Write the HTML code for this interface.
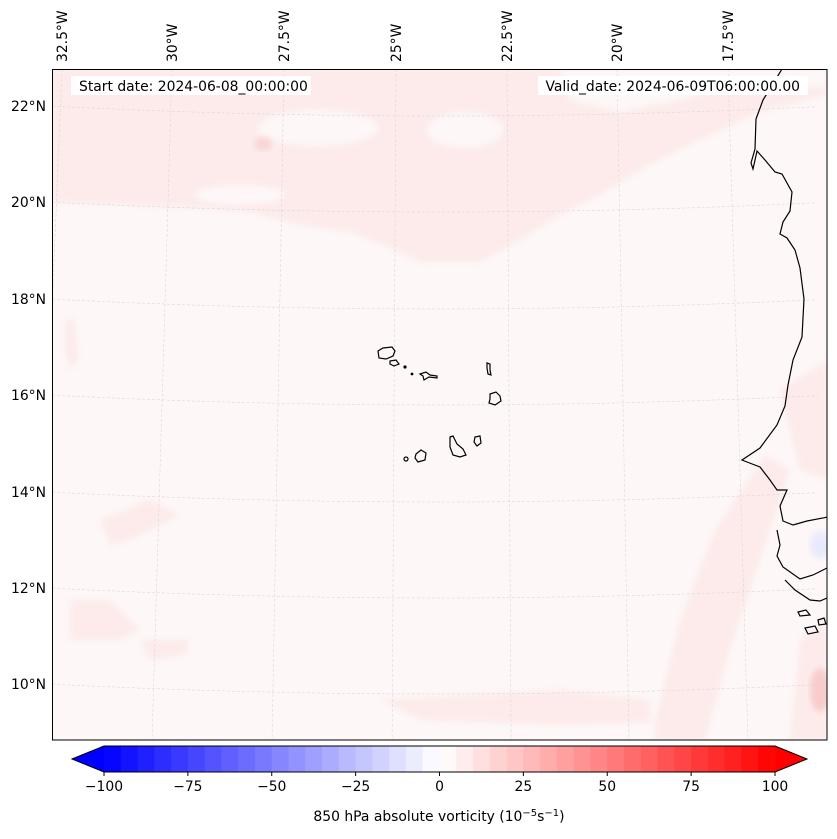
<!DOCTYPE html>
<html><head><meta charset="utf-8">
<style>
body{margin:0;background:#fff;width:837px;height:839px;overflow:hidden;font-family:"Liberation Sans","DejaVu Sans",sans-serif;}
svg{display:block}
text{font-family:"DejaVu Sans","Liberation Sans",sans-serif;font-size:13.9px;fill:#000}
</style></head>
<body>
<svg id="fig" width="837" height="839">
  <defs>
    <clipPath id="mapclip"><rect x="52" y="69" width="775" height="671"/></clipPath>
    <filter id="blur" x="-10%" y="-10%" width="120%" height="120%"><feGaussianBlur stdDeviation="3"/></filter>
  </defs>
  <g clip-path="url(#mapclip)">
    <rect x="52" y="69" width="775" height="671" fill="#fdf7f7"/>
    <g filter="url(#blur)" fill="#fdebeb">
      <path d="M52,69 L827,69 L827,95 L760,112 L700,140 L640,170 L600,195 L560,215 L520,240 L480,262 L420,262 L390,248 L350,232 L300,225 L250,212 L200,208 L130,205 L52,202 Z"/>
      <path d="M655,720 L680,620 L715,530 L765,455 L790,470 L760,560 L730,650 L705,740 L655,740 Z"/>
      <path d="M780,390 L827,360 L827,480 L800,470 Z"/>
      <path d="M800,640 L827,620 L827,740 L790,740 Z"/>
      <path d="M380,700 L560,690 L650,700 L650,722 L560,725 L420,720 Z"/>
      <path d="M70,600 L110,600 L140,630 L120,640 L70,640 Z"/>
      <path d="M100,520 L150,500 L180,515 L130,540 L110,545 Z"/>
      <path d="M140,640 L190,640 L185,655 L150,660 Z"/>
      <path d="M65,320 L75,320 L78,360 L70,370 L65,350 Z"/>
    </g>
    <g filter="url(#blur)" fill="#fdf7f7">
      <path d="M560,69 L827,69 L827,88 L740,84 L680,100 L620,112 L570,100 Z"/>
      <ellipse cx="318" cy="128" rx="60" ry="18"/>
      <ellipse cx="465" cy="130" rx="38" ry="18"/>
      <ellipse cx="240" cy="195" rx="45" ry="10"/>
    </g>
    <ellipse cx="263" cy="144" rx="9" ry="7" fill="#f9d6d6" filter="url(#blur)"/>
    <ellipse cx="820" cy="690" rx="10" ry="22" fill="#f8cccc" filter="url(#blur)"/>
    <ellipse cx="820" cy="545" rx="10" ry="14" fill="#e8eafb" filter="url(#blur)"/>
    <g id="grid" stroke="#d4d4d4" stroke-width="0.5" stroke-dasharray="3,2" fill="none"></g>
    <g stroke="#000" stroke-width="1.2" fill="none">
      <path d="M782,69 L763,100 L756,119 L755,149 L751,163 L753,169 L757,151 L765,160 L775,172 L782,174 L792,192 L790,211 L783,222 L780,234 L787,238 L795,250 L800,268 L804,299 L802,337 L793,360 L788,385 L785,406 L777,425 L760,448 L742,460 L747,462 L760,467 L770,480 L777,490 L787,490 L780,506 L783,521 L793,525 L807,521 L828,517"/>
      <path d="M777,530 L780,545 L777,556 L783,567 L800,579 L813,575 L827,568"/>
      <path d="M785,580 L795,590 L810,600 L820,601 L827,598"/>
      <path d="M798,612 L806,610 L810,615 L800,616 Z M805,628 L815,626 L818,632 L808,634 Z M818,620 L824,618 L826,624 L819,625 Z"/>
    </g>
    <g stroke="#000" stroke-width="1.2" fill="none">
      <path d="M378,351 L383,348 L392,347 L395,351 L393,356 L386,359 L379,358 Z"/>
      <path d="M390,361 L396,360 L399,364 L394,366 L390,364 Z"/>
      <circle cx="405" cy="367" r="1" fill="#000"/>
      <circle cx="412" cy="374" r="0.8" fill="#000"/>
      <path d="M420,374 L426,372 L430,375 L437,376 L437,378 L429,377 L424,380 L423,376 Z"/>
      <path d="M487,363 L490,364 L490,370 L491,375 L488,374 L487,368 Z"/>
      <path d="M490,394 L496,392 L500,396 L501,401 L495,405 L489,403 L490,399 Z"/>
      <path d="M450,437 L453,436 L457,444 L463,449 L466,455 L460,457 L453,455 L450,447 Z"/>
      <path d="M475,437 L480,436 L481,443 L477,446 L474,442 Z"/>
      <path d="M416,454 L421,450 L426,453 L425,460 L418,462 L415,458 Z"/>
      <circle cx="406" cy="459" r="2"/>
    </g>
    <rect x="71" y="76" width="240" height="19" fill="#fff"/>
    <text x="79" y="91">Start date: 2024-06-08_00:00:00</text>
    <rect x="538" y="76" width="270" height="19" fill="#fff"/>
    <text x="800" y="91" text-anchor="end">Valid_date: 2024-06-09T06:00:00.00</text>
  </g>
  <rect x="52.5" y="69.5" width="774.5" height="670.5" fill="none" stroke="#000" stroke-width="1"/>
  <g id="lonlabels"></g>
  <g id="latlabels"></g>
  <g id="cbar"></g>
  <text x="439" y="821" text-anchor="middle">850 hPa absolute vorticity (10<tspan dy="-5" font-size="10">−5</tspan><tspan dy="5">s</tspan><tspan dy="-5" font-size="10">−1</tspan><tspan dy="5">)</tspan></text>
</svg>
<script>
const lonLabels = ["32.5°W","30°W","27.5°W","25°W","22.5°W","20°W","17.5°W"];
const lonTopX = [62,172,284,396,507,617,728];
const latLabels = ["22°N","20°N","18°N","16°N","14°N","12°N","10°N"];
const latEdgeY = [106,202,299,395,492,588,684];
const cbarLevels = [-100,-95,-90,-85,-80,-75,-70,-65,-60,-55,-50,-45,-40,-35,-30,-25,-20,-15,-10,-5,0,5,10,15,20,25,30,35,40,45,50,55,60,65,70,75,80,85,90,95,100];
const cbarTicks = [-100,-75,-50,-25,0,25,50,75,100];

const NS = "http://www.w3.org/2000/svg";
function mk(tag, attrs, parent){const e=document.createElementNS(NS,tag);for(const k in attrs)e.setAttribute(k,attrs[k]);parent.appendChild(e);return e;}
const grid=document.getElementById('grid');
const mapCx=450, mapTop=69, mapH=671;
lonTopX.forEach((gx0,i)=>{
  const gx1 = gx0 + (gx0-mapCx)*0.072;
  const l=mk('line',{x1:gx0,y1:mapTop,x2:gx1,y2:mapTop+mapH},grid);
  
  
  const t=mk('text',{x:0,y:0,transform:`translate(${gx0+5},62) rotate(-90)`},document.getElementById('lonlabels'));
  t.textContent=lonLabels[i];
  
  
});
latEdgeY.forEach((gy0,i)=>{
  let d='';
  for(let x=52;x<=827;x+=15){const u=(x-440)/390;const y=gy0+10*(1-u*u);d+=(d?'L':'M')+x+','+y.toFixed(1);}
  const p=mk('path',{d:d},grid);
  
  
  const t=mk('text',{x:46,y:gy0+5,'text-anchor':'end'},document.getElementById('latlabels'));
  t.textContent=latLabels[i];
  
  
});
const cb=document.getElementById('cbar');
const cbx0=104,cbx1=775,cby0=746,cby1=772;
const vmin=-100,vmax=100;
const sx=v=>cbx0+(v-vmin)/(vmax-vmin)*(cbx1-cbx0);
function bwr(v){const f=(v-vmin)/(vmax-vmin);let r,g,b;if(f<0.5){r=g=Math.round(255*f*2);b=255;}else{r=255;g=b=Math.round(255*(1-(f-0.5)*2));}return `rgb(${r},${g},${b})`;}
const lo=mk('polygon',{points:`${cbx0},${cby0} ${cbx0},${cby1} 72,${(cby0+cby1)/2}`,fill:bwr(-100)},cb);


const hi=mk('polygon',{points:`${cbx1},${cby0} ${cbx1},${cby1} 807,${(cby0+cby1)/2}`,fill:bwr(100)},cb);


for(let i=0;i<cbarLevels.length-1;i++){
  const a=cbarLevels[i],b=cbarLevels[i+1];
  const r=mk('rect',{x:sx(a),y:cby0,width:sx(b)-sx(a)+0.5,height:cby1-cby0,fill:bwr((a+b)/2)},cb);
  
  
}
mk('polygon',{points:`72,${(cby0+cby1)/2} ${cbx0},${cby0} ${cbx1},${cby0} 807,${(cby0+cby1)/2} ${cbx1},${cby1} ${cbx0},${cby1}`,fill:'none',stroke:'#000','stroke-width':1},cb);
cbarTicks.forEach(v=>{
  const x=sx(v);
  mk('line',{x1:x,y1:cby1,x2:x,y2:cby1+4,stroke:'#000','stroke-width':1},cb);
  const t=mk('text',{x:x,y:cby1+19,'text-anchor':'middle'},cb);
  t.textContent=(v<0?'−':'')+Math.abs(v);
  
  
});
</script>
</body></html>
